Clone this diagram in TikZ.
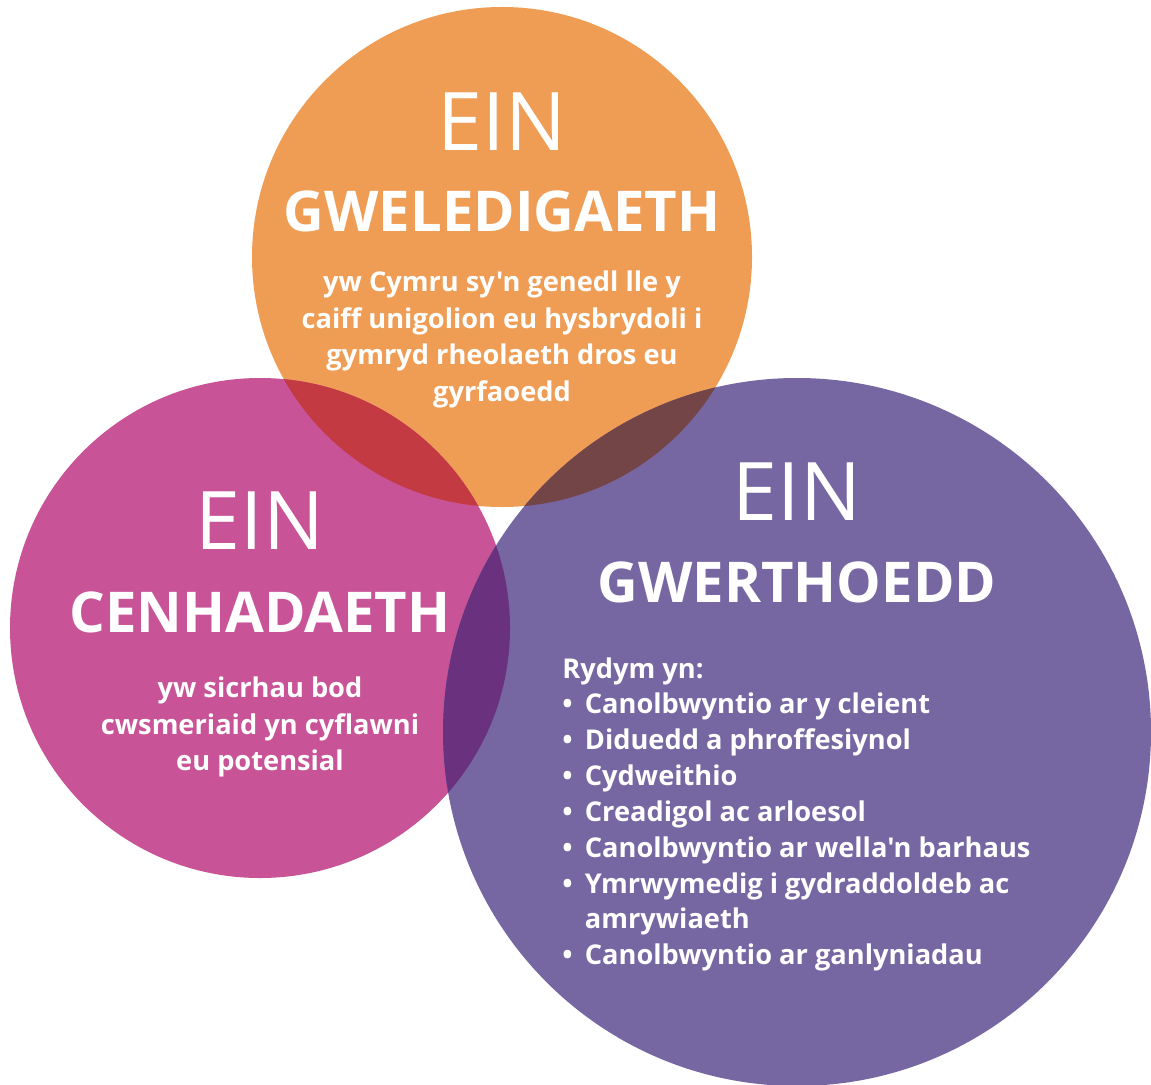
\documentclass[tikz,border=0pt]{standalone}
\usepackage{fontspec}
\setmainfont{Open Sans}[Ligatures=TeXOff]
\definecolor{oren}{HTML}{EF9D55}
\definecolor{pinc}{HTML}{C85497}
\definecolor{porffor}{HTML}{7666A2}
\definecolor{orenpinc}{HTML}{C43A42}
\definecolor{orenporffor}{HTML}{744547}
\definecolor{pincporffor}{HTML}{6A317E}
\tikzset{
  ein/.style={text=white, font=\fontsize{46}{52}\selectfont},
  teitl/.style={text=white, font=\fontsize{32}{36}\bfseries\selectfont},
  testun/.style={text=white, align=center, font=\fontsize{15.5}{20.8}\selectfont\bfseries},
  rhestr/.style={text=white, align=left, font=\fontsize{15.5}{20.4}\selectfont\bfseries}
}
\newcommand{\bwled}{\makebox[0.45cm][l]{\textbullet}}
\begin{document}
\begin{tikzpicture}[x=0.02cm, y=-0.02cm]
\useasboundingbox (0,0) rectangle (1151,1084);
\begin{scope}
\clip (0,0) rectangle (1151,1084);
% circles
\fill[oren] (502,257) circle (250);
\fill[pinc] (260,628) circle (250);
\fill[porffor] (797,732) circle (354);
% overlaps
\begin{scope}
  \clip (502,257) circle (250);
  \fill[orenpinc] (260,628) circle (250);
  \fill[orenporffor] (797,732) circle (354);
\end{scope}
\begin{scope}
  \clip (260,628) circle (250);
  \fill[pincporffor] (797,732) circle (354);
\end{scope}
\end{scope}
% gweledigaeth
\node[ein] (einA) at (502,122) {EIN};
\node[teitl] (gweledigaeth) at (502,211) {GWELEDIGAETH};
\node[testun, anchor=north] (testunA) at (502,265) {yw Cymru sy'n genedl lle y\\ caiff unigolion eu hysbrydoli i\\ gymryd rheolaeth dros eu\\ gyrfaoedd};
% cenhadaeth
\node[ein] (einB) at (260,521) {EIN};
\node[teitl] (cenhadaeth) at (260,612) {CENHADAETH};
\node[testun, anchor=north] (testunB) at (260,671) {yw sicrhau bod\\ cwsmeriaid yn cyflawni\\ eu potensial};
% gwerthoedd
\node[ein] (einC) at (797,492) {EIN};
\node[teitl] (gwerthoedd) at (797,582) {GWERTHOEDD};
\node[rhestr, anchor=north west, inner sep=0pt] (rhestr) at (562,657) {Rydym yn:\\
\bwled Canolbwyntio ar y cleient\\
\bwled Diduedd a phroffesiynol\\
\bwled Cydweithio\\
\bwled Creadigol ac arloesol\\
\bwled Canolbwyntio ar wella'n barhaus\\
\bwled Ymrwymedig i gydraddoldeb ac\\
\makebox[0.45cm]{}amrywiaeth\\
\bwled Canolbwyntio ar ganlyniadau};
\end{tikzpicture}
\end{document}
